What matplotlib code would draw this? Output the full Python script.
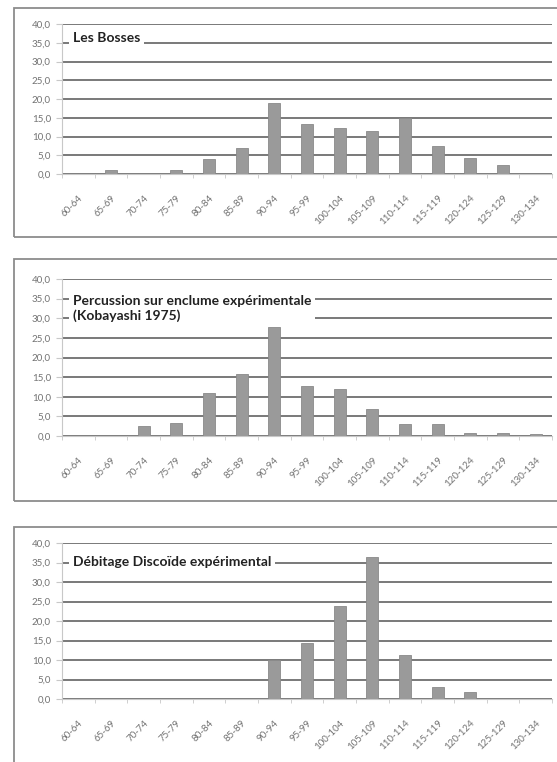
import matplotlib
matplotlib.use("Agg")
import matplotlib.pyplot as plt
from matplotlib.patches import Rectangle
from matplotlib.ticker import FixedLocator, FuncFormatter

plt.rcParams['font.family'] = ['Lato', 'DejaVu Sans']

# classes (same for the three panels)
classes = ['60-64', '65-69', '70-74', '75-79', '80-84', '85-89', '90-94', '95-99',
           '100-104', '105-109', '110-114', '115-119', '120-124', '125-129', '130-134']

# percentages
bosses = [0.0, 1.0, 0.0, 1.0, 4.1, 7.0, 19.0, 13.3, 12.3, 11.4, 14.9, 7.4, 4.4, 2.4, 0.0]
kobayashi = [0.0, 0.0, 2.5, 3.4, 11.0, 15.7, 27.7, 12.8, 12.0, 6.8, 3.0, 3.0, 0.8, 0.7, 0.4]
discoide = [0.0, 0.0, 0.0, 0.0, 0.0, 0.0, 10.0, 14.3, 23.8, 36.5, 11.3, 3.1, 1.8, 0.0, 0.0]

titles = ['Les Bosses',
          'Percussion sur enclume expérimentale\n(Kobayashi 1975)',
          'Débitage Discoïde expérimental']

W, H = 557, 762
fig = plt.figure(figsize=(W / 100, H / 100), dpi=100)
fig.patch.set_facecolor('white')

def px_rect(x0, y0, x1, y1):
    # pixel box (y down) -> figure fraction [left, bottom, width, height]
    return [x0 / W, (H - y1) / H, (x1 - x0) / W, (y1 - y0) / H]

# panel frames and axes boxes, in pixels
frames = [(14, 8, 562, 237), (14, 259, 562, 501), (14, 527, 562, 770)]
boxes = [(62, 24, 552, 174), (62, 279, 552, 436), (62, 543, 552, 699)]
title_y = [36.2, 32.5, 35.0]

grey_txt = '#727272'

for k, (values, title) in enumerate(zip([bosses, kobayashi, discoide], titles)):
    fx = px_rect(*frames[k])
    fig.patches.append(Rectangle((fx[0], fx[1]), fx[2], fx[3], transform=fig.transFigure,
                                 fill=False, edgecolor='#8c8c8c', linewidth=1.3))

    ax = fig.add_axes(px_rect(*boxes[k]))
    x = range(len(classes))
    ax.bar(x, values, width=0.37, color='#9a9a9a', edgecolor='#8a8a8a', linewidth=0.6, zorder=3)

    ax.set_xlim(-0.5, len(classes) - 0.5)
    ax.set_ylim(0, 40)
    ax.set_yticks(range(0, 41, 5))
    ax.yaxis.set_major_formatter(FuncFormatter(lambda v, p: f'{v:.1f}'.replace('.', ',')))
    ax.grid(axis='y', color='#6e6e6e', linewidth=1.3)
    ax.set_axisbelow(True)

    ax.set_xticks(list(x))
    ax.set_xticklabels(classes, rotation=45, ha='right', rotation_mode='anchor')
    ax.xaxis.set_minor_locator(FixedLocator([i - 0.5 for i in range(len(classes) + 1)]))
    ax.tick_params(axis='x', which='major', length=0, pad=14, labelsize=7, labelcolor=grey_txt)
    ax.tick_params(axis='x', which='minor', length=3, color='#c8c8c8', direction='out')
    ax.tick_params(axis='y', length=4, color='#c8c8c8', labelsize=7, labelcolor=grey_txt, pad=4)

    for side in ['top', 'right']:
        ax.spines[side].set_visible(False)
    ax.spines['left'].set_color('#c8c8c8')
    ax.spines['bottom'].set_color('#c8c8c8')

    ax.text(0.022, title_y[k], title, transform=ax.get_yaxis_transform(), ha='left', va='center',
            fontsize=10, fontweight='bold', color='#222222', linespacing=1.3,
            zorder=5, bbox=dict(facecolor='white', edgecolor='none', pad=3))

fig.savefig('out.png', dpi=100)
